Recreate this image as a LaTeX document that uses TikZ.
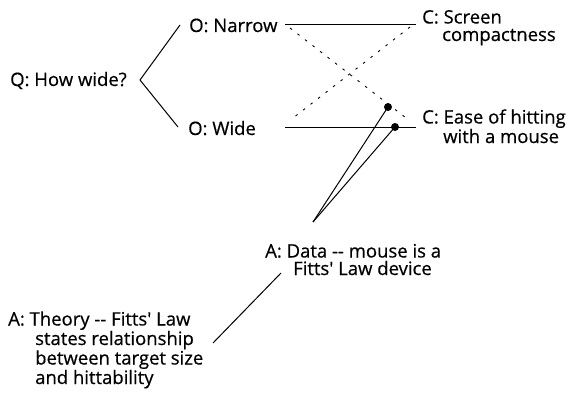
\documentclass[tikz,border=0pt]{standalone}
\usepackage{fontspec}
\setmainfont{Open Sans}
\newfontfamily\lblfont{Open Sans}[FakeBold=0.5]
\begin{document}
\begin{tikzpicture}[x=1pt,y=-1pt,
  lbl/.style={font=\lblfont\fontsize{18.5}{17.5}\selectfont, inner sep=0pt, align=left, anchor=base west},
  link/.style={line width=1pt, black},
  rule/.style={line width=0.8pt, black},
  tie/.style={line width=0.9pt, black, dash pattern=on 2.5pt off 7pt},
  knob/.style={circle, fill=black, inner sep=0pt, minimum size=8pt}]
\useasboundingbox (0,0) rectangle (575,393);

% question and options (anchor = baseline of the last line)
\node[lbl] (q)  at (10,86)   {Q: How wide?};
\node[lbl] (on) at (189,32)  {O: Narrow};
\node[lbl] (ow) at (188,135) {O: Wide};

% criteria
\node[lbl] (cs) at (422,41)  {C: Screen\\\hspace*{20pt}compactness};
\node[lbl] (ce) at (422,143) {C: Ease of hitting\\\hspace*{21pt}with a mouse};

% arguments
\node[lbl] (ad) at (265,275) {A: Data -{}- mouse is a\\\hspace*{28pt}Fitts' Law device};
\node[lbl] (at) at (8,384)   {A: Theory -{}- Fitts' Law\\\hspace*{27pt}states relationship\\\hspace*{27pt}between target size\\\hspace*{27pt}and hittability};

% branch from the question to its options
\coordinate (qe) at (140,80);
\coordinate (onw) at (180,25);
\coordinate (oww) at (178,127);
\draw[link] (qe) -- (onw);
\draw[link] (qe) -- (oww);

% option-to-criterion links
\coordinate (nl) at (285,24);
\coordinate (nr) at (416,24);
\coordinate (wl) at (285,127);
\coordinate (wr) at (416,127);
\coordinate (dnl) at (290,28);
\coordinate (dnr) at (410,27);
\coordinate (dwl) at (293,118);
\coordinate (dwr) at (410,121);
\draw[rule] (nl) -- (nr);
\draw[rule] (wl) -- (wr);
\draw[tie] (dnl) -- (dwr);
\draw[tie] (dnr) -- (dwl);

% argument pointers
\coordinate (apex) at (313,222);
\node[knob] (k1) at (388,107) {};
\node[knob] (k2) at (395,127) {};
\draw[link] (apex) -- (k1.center);
\draw[link] (apex) -- (k2.center);
\coordinate (tt) at (281,273);
\coordinate (tb) at (213,343);
\draw[link] (tt) -- (tb);
\end{tikzpicture}
\end{document}
